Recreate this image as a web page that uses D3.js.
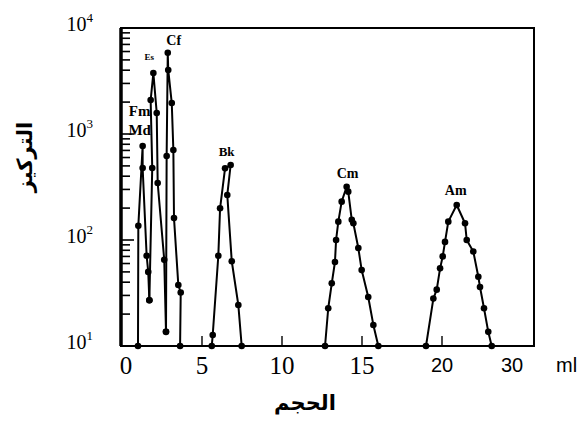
<!DOCTYPE html>
<meta charset="utf-8">
<head>
<style>
body { margin: 0; background: #fff; }
svg { display: block; }
.peak path { fill: none; stroke: #000; stroke-width: 2; stroke-linejoin: round; }
.peak circle { fill: #000; }
.tag { font-family: "Liberation Serif", serif; font-weight: bold; text-anchor: middle; }
.serif { font-family: "Liberation Serif", serif; }
.sans { font-family: "Liberation Sans", Arial, sans-serif; }
.arabic { font-family: "DejaVu Sans", sans-serif; font-weight: bold; text-anchor: middle; }
</style>
<script src="https://cdn.jsdelivr.net/npm/d3@7"></script>
</head>
<body>
<svg width="580" height="427"></svg>
<script>

// [volume (ml), concentration], in the order the pen drew them
var mdFm = [[1.0,10],[1.02,136],[1.29,771],[1.29,478],[1.54,71],[1.64,50],[1.71,27]];
var es   = [[1.71,27],[1.89,478],[1.79,2090],[1.96,3760],[2.17,1580],[2.23,345],[2.64,65],[2.75,13.6]];
var cf   = [[2.75,13.6],[2.79,620],[2.86,5850],[2.89,4020],[3.11,1960],[3.21,706],[3.25,161],[3.52,37.6],[3.67,32],[3.63,10]];
var bk   = [[5.61,10],[5.67,12.7],[6.02,71],[6.13,199],[6.44,474],[6.79,510],[6.58,266],[6.86,63],[7.27,24.4],[7.48,10]];
var cm   = [[12.69,10],[12.89,22.7],[13.11,39],[13.31,62],[13.38,100],[13.52,149],[13.73,230],[14.04,318],[14.14,286],
            [14.36,155],[14.46,144],[14.77,84],[14.98,52],[15.39,29],[15.71,15.8],[16.02,10]];
var am   = [[19.0,10],[19.46,28],[19.67,34],[19.88,54],[20.1,70],[20.43,96],[20.9,149],[22.1,214],[23.29,144],
            [23.53,100],[24.47,78],[25.19,45],[25.43,36],[26.0,22.7],[26.61,13.6],[27.1,10]];

var xTicks = [0, 5, 10, 15, 20, 30];
var yDecades = [10, 100, 1000, 10000];
var peakNames = ["Fm", "Md", "Es", "Cf", "Bk", "Cm", "Am"];

var svg = d3.select("svg");
var plotLeft = 121, plotRight = 534, plotTop = 28, plotBottom = 346;

// the printed axis jumps from 20 to 30 in a short step, so the scale is piecewise
var x = d3.scaleLinear().domain([0, 20, 30]).range([122, 442, 512]);
var y = d3.scaleLog().domain([10, 10000]).range([plotBottom, plotTop]);

var line = d3.line()
    .x(function(d) { return x(d[0]); })
    .y(function(d) { return y(d[1]); });

// y ticks, inward
var yt = svg.append("g");
y.ticks().forEach(function(v) {
  var major = Math.abs(Math.log10(v) - Math.round(Math.log10(v))) < 1e-9;
  yt.append("line")
    .attr("x1", plotLeft).attr("x2", plotLeft + (major ? 13 : 9))
    .attr("y1", y(v)).attr("y2", y(v))
    .attr("stroke", "#000").attr("stroke-width", 1.6);
});

yDecades.forEach(function(v) {
  var t = svg.append("text")
    .attr("class", "serif")
    .attr("x", 93).attr("y", y(v) + 3)
    .attr("text-anchor", "end")
    .style("font-size", "20px");
  t.append("tspan").text("10");
  t.append("tspan").attr("dy", -9).style("font-size", "13px").text(Math.round(Math.log10(v)));
});

// x ticks, inward, none at 0 and 30
xTicks.filter(function(v) { return v > 0 && v < 30; }).forEach(function(v) {
  svg.append("line")
    .attr("x1", x(v)).attr("x2", x(v))
    .attr("y1", plotBottom).attr("y2", plotBottom - 10)
    .attr("stroke", "#000").attr("stroke-width", 1.4);
});

xTicks.forEach(function(v) {
  var serif = v < 20;
  svg.append("text")
    .attr("class", serif ? "serif" : "sans")
    .attr("x", x(v) + (v == 0 ? 4 : 0))
    .attr("y", serif ? 374 : 372)
    .attr("text-anchor", "middle")
    .style("font-size", serif ? "25px" : "20px")
    .text(v);
});

svg.append("text")
  .attr("class", "sans")
  .attr("x", 556).attr("y", 372)
  .style("font-size", "20px")
  .text("ml");

// frame
svg.append("rect")
  .attr("x", plotLeft).attr("y", plotTop)
  .attr("width", plotRight - plotLeft).attr("height", plotBottom - plotTop)
  .attr("fill", "none").attr("stroke", "#000").attr("stroke-width", 2);
svg.append("line")
  .attr("x1", plotLeft).attr("x2", plotLeft).attr("y1", plotTop).attr("y2", plotBottom)
  .attr("stroke", "#000").attr("stroke-width", 3.5);

// peaks
var series = [mdFm, es, cf, bk, cm, am];
var peaks = svg.selectAll(".peak")
  .data(series)
  .enter().append("g")
    .attr("class", "peak");

peaks.append("path")
  .attr("d", line);

peaks.selectAll("circle")
  .data(function(d) { return d; })
  .enter().append("circle")
    .attr("cx", function(d) { return x(d[0]); })
    .attr("cy", function(d) { return y(d[1]); })
    .attr("r", 3.3);

// peak labels, placed off the top point of each peak
function topOf(s) {
  return s.reduce(function(a, b) { return b[1] > a[1] ? b : a; });
}
var tags = [
  { s: mdFm, dx: -3, dy: -30, size: 15 },
  { s: mdFm, dx: -3, dy: -11, size: 15 },
  { s: es,   dx: -4, dy: -13, size: 9 },
  { s: cf,   dx: 6,  dy: -8,  size: 14 },
  { s: bk,   dx: -4, dy: -9,  size: 13 },
  { s: cm,   dx: 1,  dy: -9,  size: 14 },
  { s: am,   dx: -1, dy: -10, size: 14 }
];
tags.forEach(function(t, i) {
  var p = topOf(t.s);
  svg.append("text")
    .attr("class", "tag")
    .attr("x", x(p[0]) + t.dx)
    .attr("y", y(p[1]) + t.dy)
    .style("font-size", t.size + "px")
    .text(peakNames[i]);
});

// axis titles
svg.append("text")
  .attr("class", "arabic")
  .attr("transform", "translate(32,157) rotate(-90)")
  .style("font-size", "21px")
  .text("التركيز");

svg.append("text")
  .attr("class", "arabic")
  .attr("x", 305).attr("y", 410)
  .style("font-size", "21px")
  .text("الحجم");

</script>
</body>
